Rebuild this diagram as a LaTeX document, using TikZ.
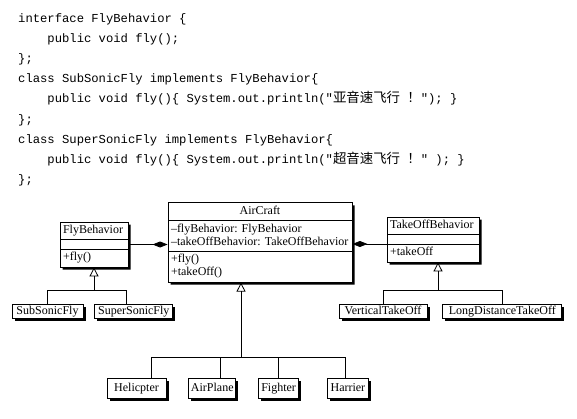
\documentclass[tikz,border=0pt]{standalone}
\usepackage{fontspec}
\setmainfont{Liberation Serif}
\setmonofont{Liberation Mono}
\newfontfamily\cjk[Scale=1.1]{Noto Sans CJK SC}
\usetikzlibrary{shapes.multipart,arrows.meta,positioning,shadows}

\begin{document}
\begin{tikzpicture}[
    x=1pt, y=-1pt,
    node distance=12pt,
    code/.style={align=left, inner sep=0pt, font=\fontsize{12.2}{20.2}\selectfont\ttfamily},
    cls/.style={rectangle split, rectangle split parts=3, draw, fill=white, line width=0.8pt, rectangle split part align=left, rectangle split empty part height=3pt, rectangle split empty part depth=0pt, align=left, inner xsep=3pt, inner ysep=2pt, font=\fontsize{12}{13}\selectfont, drop shadow={shadow xshift=2.5pt, shadow yshift=-2.5pt, opacity=1, fill=black}},
    leaf/.style={rectangle, draw, fill=white, line width=0.8pt, inner xsep=2pt, inner ysep=1pt, text height=9pt, text depth=3pt, font=\fontsize{12}{13}\selectfont, drop shadow={shadow xshift=2.5pt, shadow yshift=-2.5pt, opacity=1, fill=black}},
    has/.style={-{Diamond[length=15pt,width=6pt]}, line width=0.8pt},
    isa/.style={-{Triangle[open,length=9pt,width=9pt]}, line width=0.8pt},
    link/.style={line width=0.8pt}
]
\useasboundingbox (0,0) rectangle (577,418);

% Code
\node[code, anchor=north west] (src) at (18,13) {interface FlyBehavior \{\\
\ \ \ \ public void fly();\\
\};\\
class SubSonicFly implements FlyBehavior\{\\
\ \ \ \ public void fly()\{ System.out.println("{\cjk 亚音速飞行} {\cjk ！}"); \}\\
\};\\
class SuperSonicFly implements FlyBehavior\{\\
\ \ \ \ public void fly()\{ System.out.println("{\cjk 超音速飞行} {\cjk ！}" ); \}\\
\};};

% Classes
\node[cls, minimum width=68pt] (fly) at (94,244.5) {\strut FlyBehavior\nodepart{two}\nodepart{three}\strut +fly()};
\node[cls, minimum width=184pt, rectangle split part align={center,left,left}] (air) at (260,242.5) {\strut AirCraft\nodepart{two}\strut –flyBehavior: FlyBehavior\\\strut –takeOffBehavior: TakeOffBehavior\nodepart{three}\strut +fly()\\\strut +takeOff()};
\node[cls, minimum width=92pt] (toff) at (433,239.5) {\strut TakeOffBehavior\nodepart{two}\nodepart{three}\strut +takeOff};

% Subclasses
\node[leaf, minimum width=71pt] (sub) at (47.5,311.5) {SubSonicFly};
\node[leaf, minimum width=78pt, right=11pt of sub] (super) {SuperSonicFly};
\node[leaf, minimum width=88pt] (vto) at (383,311.5) {VerticalTakeOff};
\node[leaf, minimum width=119pt, right=15pt of vto] (ldto) {LongDistanceTakeOff};
\node[leaf, minimum width=59pt, inner ysep=4pt] (heli) at (136.5,388) {Helicpter};
\node[leaf, minimum width=47pt, inner ysep=4pt, right=22pt of heli] (plane) {AirPlane};
\node[leaf, minimum width=40pt, inner ysep=4pt, right=22pt of plane] (fighter) {Fighter};
\node[leaf, minimum width=41pt, inner ysep=4pt, right=28pt of fighter] (harrier) {Harrier};

% Associations
\draw[has] (fly.east) -- (fly.east -| air.west);
\draw[has] ([yshift=-4.5pt]toff.west) -- ([yshift=-4.5pt]toff.west -| air.east);

% Generalizations
\coordinate (flyj) at ([yshift=-23pt]fly.south);
\draw[isa] (flyj) -- (fly.south);
\draw[link] (sub.north) |- (flyj);
\draw[link] ([xshift=-7pt]super.north) |- (flyj);

\coordinate (toffj) at ([xshift=5pt,yshift=-28pt]toff.south);
\draw[isa] (toffj) -- ([xshift=5pt]toff.south);
\draw[link] (vto.north) |- (toffj);
\draw[link] (ldto.north) |- (toffj);

\coordinate (airj) at ([xshift=-19pt,yshift=-75pt]air.south);
\draw[isa] (airj) -- ([xshift=-19pt]air.south);
\draw[link] ([xshift=15pt]heli.north) |- (airj);
\draw[link] ([xshift=8pt]plane.north) |- (airj);
\draw[link] (fighter.north) |- (airj);
\draw[link] ([xshift=-3pt]harrier.north) |- (airj);

\end{tikzpicture}
\end{document}
